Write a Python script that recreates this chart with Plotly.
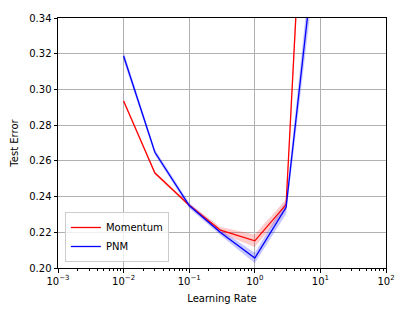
import plotly.graph_objects as go

lr = [0.01, 0.03, 0.1, 0.3, 1, 3, 10]
mom_mean = [0.2935, 0.2532, 0.2352, 0.2212, 0.2152, 0.2355, 0.606]
mom_lo = [0.2927, 0.2524, 0.2343, 0.2195, 0.2118, 0.2325, 0.590]
mom_hi = [0.2943, 0.2540, 0.2361, 0.2229, 0.2188, 0.2385, 0.622]
pnm_mean = [0.3187, 0.2648, 0.2350, 0.2199, 0.2056, 0.2340, 0.405]
pnm_lo = [0.3163, 0.2633, 0.2335, 0.2184, 0.2026, 0.2303, 0.390]
pnm_hi = [0.3211, 0.2663, 0.2365, 0.2214, 0.2086, 0.2377, 0.420]

x_tickvals = [1e-3, 1e-2, 1e-1, 1, 10, 100]
x_ticktext = ["10<sup>−3</sup>", "10<sup>−2</sup>", "10<sup>−1</sup>", "10<sup>0</sup>", "10<sup>1</sup>", "10<sup>2</sup>"]
y_tickvals = [0.20, 0.22, 0.24, 0.26, 0.28, 0.30, 0.32, 0.34]

fig = go.Figure()

def band(lo, hi, color):
    fig.add_trace(go.Scatter(x=lr, y=lo, mode="lines", line=dict(width=0, color=color),
                             showlegend=False, hoverinfo="skip"))
    fig.add_trace(go.Scatter(x=lr, y=hi, mode="lines", line=dict(width=0, color=color),
                             fill="tonexty", fillcolor=color, showlegend=False, hoverinfo="skip"))

band(mom_lo, mom_hi, "rgba(255,0,0,0.2)")
band(pnm_lo, pnm_hi, "rgba(0,0,255,0.22)")

fig.add_trace(go.Scatter(x=lr, y=mom_mean, mode="lines", name="Momentum",
                         line=dict(color="red", width=1.3)))
fig.add_trace(go.Scatter(x=lr, y=pnm_mean, mode="lines", name="PNM",
                         line=dict(color="blue", width=1.3)))

axis_common = dict(showline=True, linecolor="black", linewidth=1, mirror=True,
                   ticks="outside", ticklen=3.5, tickcolor="black",
                   showgrid=True, gridcolor="#b0b0b0", gridwidth=0.8, zeroline=False,
                   tickfont=dict(family="DejaVu Sans", size=10, color="black"))

fig.update_xaxes(type="log", range=[-3, 2], tickvals=x_tickvals, ticktext=x_ticktext,
                 title=dict(text="Learning Rate", font=dict(family="DejaVu Sans", size=10, color="black"),
                            standoff=9),
                 minor=dict(ticks="outside", ticklen=2, tickcolor="black", dtick="D1", showgrid=False),
                 **axis_common)
fig.update_yaxes(range=[0.20, 0.34], tickvals=y_tickvals, tickformat=".2f",
                 title=dict(text="Test Error", font=dict(family="DejaVu Sans", size=10, color="black"),
                            standoff=8),
                 **axis_common)

fig.update_layout(
    width=407, height=315,
    margin=dict(l=58, r=21, t=13, b=47),
    plot_bgcolor="white", paper_bgcolor="white",
    font=dict(family="DejaVu Sans", size=10, color="black"),
    legend=dict(x=0.021, y=0.024, xanchor="left", yanchor="bottom", traceorder="normal",
                bgcolor="rgba(255,255,255,0.8)", bordercolor="#cccccc", borderwidth=1,
                font=dict(family="DejaVu Sans", size=10), tracegroupgap=0, itemwidth=30),
)

fig.write_html("out.html", config={"displayModeBar": False},
               post_script="document.body.style.margin='0';document.body.style.padding='0';")
